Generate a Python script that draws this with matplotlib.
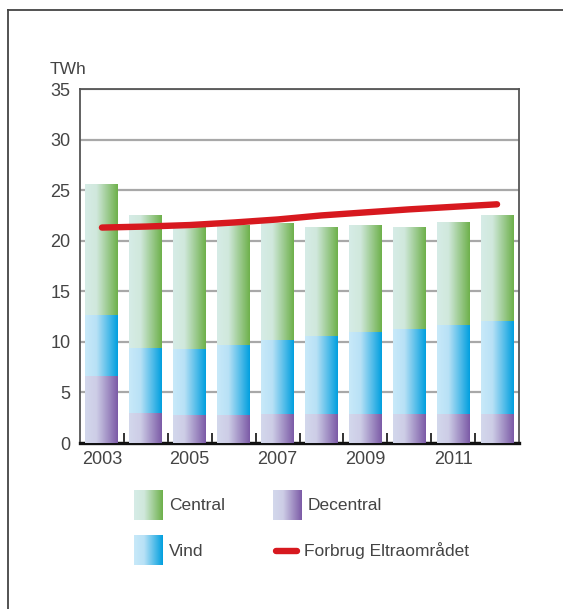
import numpy as np
import matplotlib
matplotlib.use("Agg")
import matplotlib.pyplot as plt
from matplotlib.colors import LinearSegmentedColormap
from matplotlib.lines import Line2D

plt.rcParams['font.family'] = ['Liberation Sans', 'DejaVu Sans']

# data (TWh)
years = [2003, 2004, 2005, 2006, 2007, 2008, 2009, 2010, 2011, 2012]
decentral = [6.6, 2.95, 2.8, 2.8, 2.9, 2.9, 2.9, 2.9, 2.9, 2.9]
vind = [6.05, 6.45, 6.5, 6.9, 7.3, 7.7, 8.1, 8.4, 8.8, 9.2]
central = [12.95, 13.15, 12.1, 11.86, 11.6, 10.76, 10.56, 10.06, 10.16, 10.45]
forbrug = [21.3, 21.4, 21.55, 21.8, 22.1, 22.5, 22.8, 23.1, 23.35, 23.6]
tick_years = [2003, 2005, 2007, 2009, 2011]

# gradient colours (light left -> dark right)
c_central = ['#d6ece7', '#d0e8dc', '#6db04a']
c_vind = ['#c8e9f9', '#b8e1f6', '#009fdf']
c_decentral = ['#d3d8ec', '#cdcde6', '#7b5aa6']
red = '#d7191f'
txt = '#444444'


def make_cmap(cols):
    return LinearSegmentedColormap.from_list('g', [(0, cols[0]), (0.35, cols[1]), (1, cols[2])])


W, H = 563, 609
fig = plt.figure(figsize=(W / 100, H / 100), dpi=100)
ax = fig.add_axes([80 / W, 1 - 443 / H, 439 / W, 354 / H])

x = np.arange(len(years))
grad = np.linspace(0, 1, 256).reshape(1, -1)

bottom = np.zeros(len(years))
for vals, cols in [(decentral, c_decentral), (vind, c_vind), (central, c_central)]:
    bars = ax.bar(x, vals, width=0.75, bottom=bottom, color='none', edgecolor='none', zorder=3)
    cmap = make_cmap(cols)
    for p in bars.patches:
        x0, y0 = p.get_x(), p.get_y()
        im = ax.imshow(grad, extent=[x0, x0 + p.get_width(), y0, y0 + p.get_height()],
                       aspect='auto', cmap=cmap, zorder=3, interpolation='bilinear')
        im.set_clip_path(p)
    bottom = bottom + np.array(vals)

ax.plot(x, forbrug, color=red, lw=4.6, solid_capstyle='round', zorder=5)

ax.set_xlim(-0.5, len(years) - 0.5)
ax.set_ylim(0, 35)
ax.set_yticks(np.arange(0, 36, 5))
ax.yaxis.grid(True, color='#a8a8a8', lw=1.6, zorder=1)
ax.set_axisbelow(True)
ax.tick_params(axis='y', length=0, pad=7, labelsize=13, labelcolor=txt)

ax.set_xticks([years.index(y) for y in tick_years])
ax.set_xticklabels([str(y) for y in tick_years])
ax.set_xticks(np.arange(0.5, len(years) - 1, 1), minor=True)
ax.tick_params(axis='x', which='major', length=0, pad=6, labelsize=13, labelcolor=txt)
ax.tick_params(axis='x', which='minor', direction='in', length=7, width=1.3, color='#222222')

for s in ['left', 'top', 'right']:
    ax.spines[s].set_color('#555555')
    ax.spines[s].set_linewidth(1.3)
ax.spines['bottom'].set_color('#111111')
ax.spines['bottom'].set_linewidth(2.4)

fig.text(50 / W, 1 - 70 / H, 'TWh', fontsize=12.5, color=txt, va='center', ha='left')

# outer frame
fig.add_artist(Line2D([8 / W, 8 / W], [0, 1 - 10 / H], color='#444444', lw=1.3))
fig.add_artist(Line2D([8 / W, 1], [1 - 10 / H, 1 - 10 / H], color='#444444', lw=1.3))

# legend
def legend_patch(px, py, cols, label):
    gax = fig.add_axes([px / W, 1 - (py + 30) / H, 29 / W, 30 / H])
    gax.imshow(grad, aspect='auto', cmap=make_cmap(cols), interpolation='bilinear')
    gax.axis('off')
    fig.text((px + 35) / W, 1 - (py + 16) / H, label, fontsize=12.5, color=txt, va='center')

legend_patch(134, 490, c_central, 'Central')
legend_patch(273, 490, c_decentral, 'Decentral')
legend_patch(134, 535, c_vind, 'Vind')
fig.add_artist(Line2D([276 / W, 297 / W], [1 - 551 / H, 1 - 551 / H], color=red, lw=4.6,
                      solid_capstyle='round'))
fig.text(304 / W, 1 - 551 / H, 'Forbrug Eltraområdet', fontsize=12.5, color=txt, va='center')

fig.savefig('out.png', dpi=100)
